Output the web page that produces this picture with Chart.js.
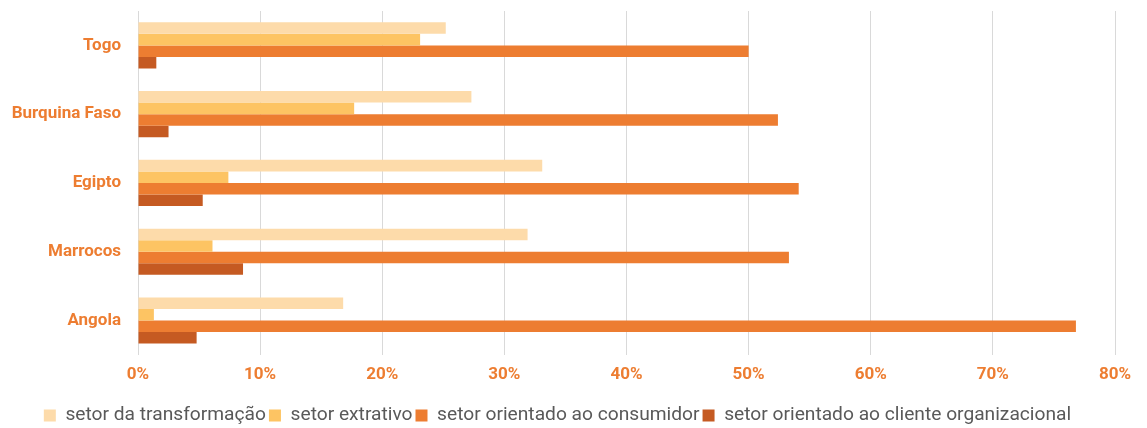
<!DOCTYPE html>
<html>
<head>
<meta charset="utf-8">
<script src="https://cdn.jsdelivr.net/npm/chart.js@4"></script>
<style>
html,body{margin:0;padding:0;background:#fff;}
#wrap{width:1147px;height:428px;}
</style>
</head>
<body>
<div id="wrap"><canvas id="c" width="1147" height="428"></canvas></div>
<script>
const categories = ['Togo', 'Burquina Faso', 'Egipto', 'Marrocos', 'Angola'];
const seriesNames = ['setor da transformação', 'setor extrativo', 'setor orientado ao consumidor', 'setor orientado ao cliente organizacional'];
const transformacao = [25.2, 27.3, 33.1, 31.9, 16.8];
const extrativo = [23.1, 17.7, 7.4, 6.1, 1.3];
const consumidor = [50.0, 52.4, 54.1, 53.3, 76.8];
const organizacional = [1.5, 2.5, 5.3, 8.6, 4.8];
const xTickLabels = ['0%', '10%', '20%', '30%', '40%', '50%', '60%', '70%', '80%'];
const colors = ['#FDDBAA', '#FDC463', '#ED7D31', '#C55A22'];

const seriesValues = [transformacao, extrativo, consumidor, organizacional];
const datasets = seriesNames.map((n, i) => ({
  label: n,
  data: seriesValues[i],
  backgroundColor: colors[i],
  borderWidth: 0,
  barPercentage: 1.0,
  categoryPercentage: 0.67
}));

new Chart(document.getElementById('c'), {
  type: 'bar',
  data: { labels: categories, datasets },
  options: {
    indexAxis: 'y',
    responsive: false,
    animation: false,
    devicePixelRatio: 1,
    layout: { padding: { top: 11, right: 32, left: 0, bottom: -7 } },
    plugins: {
      tooltip: { enabled: false },
      legend: {
        position: 'bottom',
        labels: {
          boxWidth: 12,
          boxHeight: 12,
          padding: 3,
          color: '#595959',
          font: { family: 'Roboto', size: 19.2 }
        }
      }
    },
    scales: {
      x: {
        min: 0,
        max: 80,
        afterFit: (s) => { s.height = 48; s.paddingLeft = 0; s.paddingRight = 0; },
        ticks: {
          stepSize: 10,
          color: '#ED7D31',
          font: { family: 'Roboto', size: 17, weight: 'bold' },
          padding: 10,
          maxRotation: 0,
          callback: (v) => xTickLabels[Math.round(v / 10)]
        },
        grid: { color: '#D9D9D9', lineWidth: 1, drawTicks: false },
        border: { display: false }
      },
      y: {
        afterFit: (s) => { s.width = 138; s.paddingTop = 0; s.paddingBottom = 0; },
        ticks: {
          color: '#ED7D31',
          font: { family: 'Roboto', size: 17, weight: 'bold' },
          padding: 17
        },
        grid: { display: false, drawTicks: false },
        border: { display: false }
      }
    }
  }
});
</script>
</body>
</html>
